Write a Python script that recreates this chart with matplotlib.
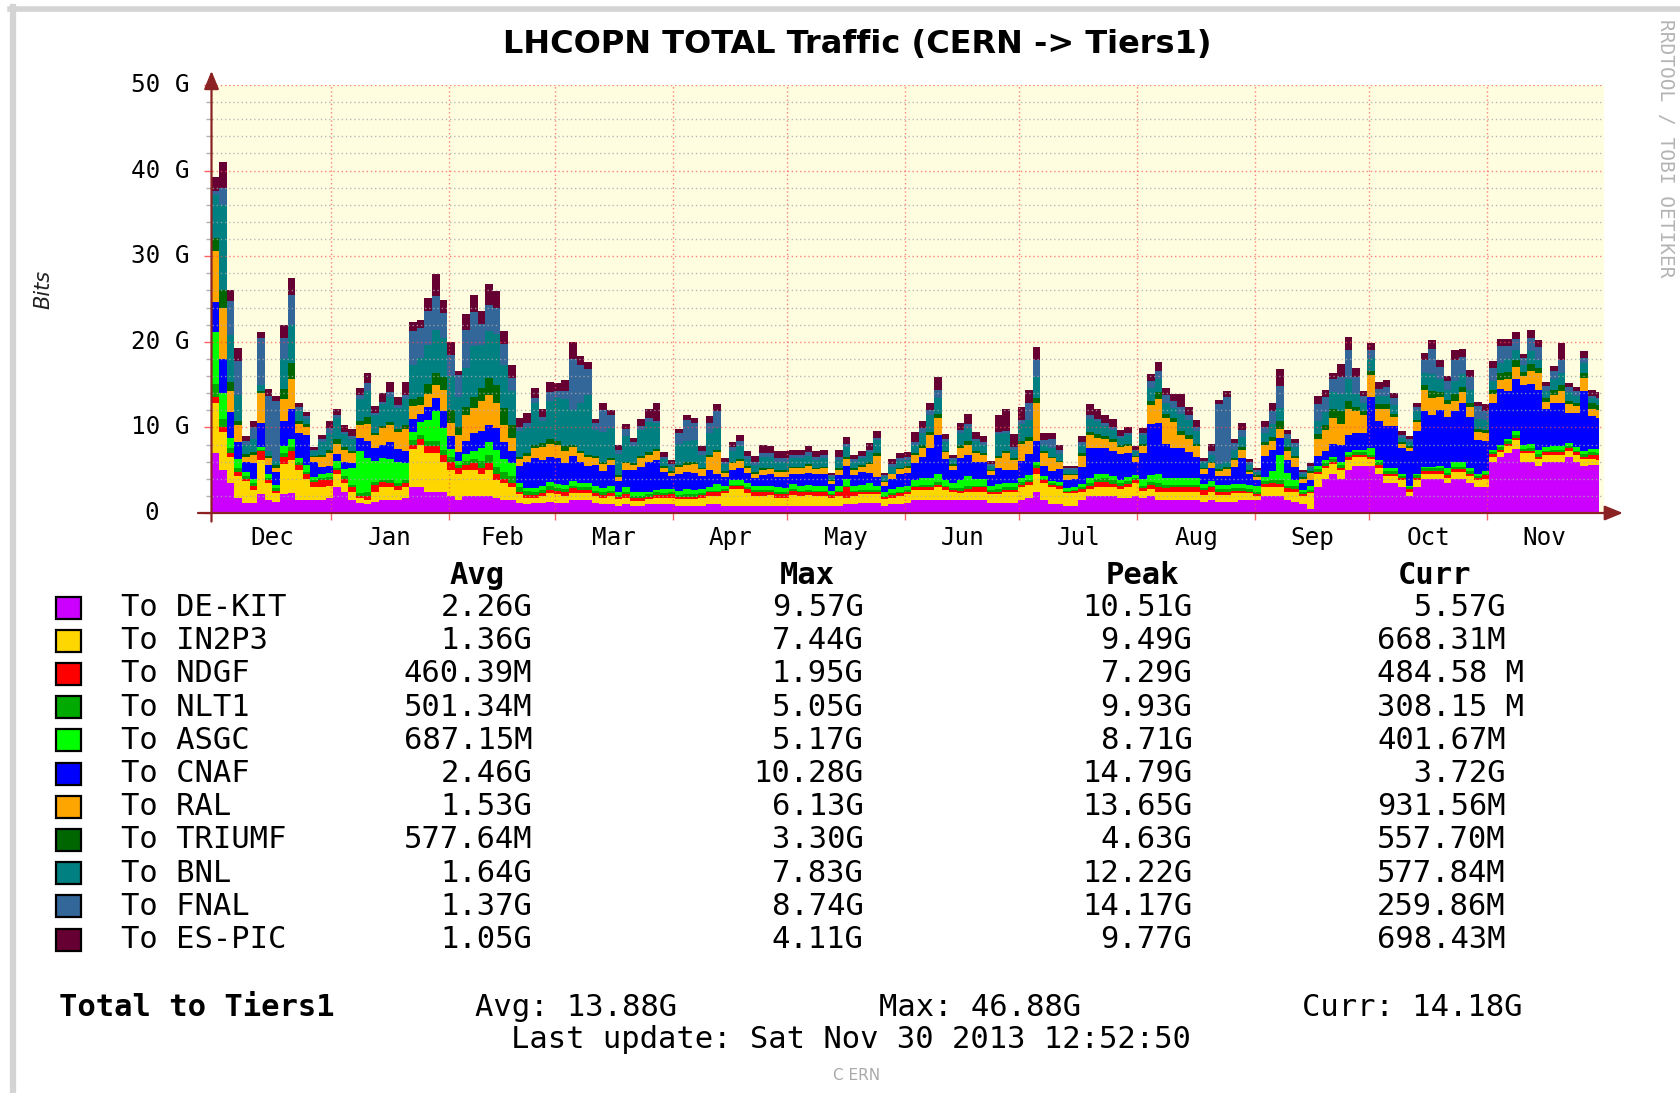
import matplotlib
matplotlib.use("Agg")
import matplotlib.pyplot as plt
from matplotlib.patches import Rectangle
from matplotlib.lines import Line2D

W, H = 1680, 1093

# x axis: days since Nov 30 2012 12:52, traffic averaged in 2 day bins (Gbit/s)
bin_start = list(range(0, 366, 2))
data_end = 365.0

month_start = [0.46, 31.46, 62.46, 90.46, 121.46, 151.46, 182.46, 212.46,
               243.46, 274.46, 304.46, 335.46, 365.46]
month_names = ['Dec', 'Jan', 'Feb', 'Mar', 'Apr', 'May', 'Jun', 'Jul',
               'Aug', 'Sep', 'Oct', 'Nov']

de_kit = [7, 5, 3.5, 1.8, 1.2, 1.2, 2.2, 1.5, 1.3, 2.2,
          2.3, 1.5, 1.5, 1.5, 1.5, 1.8, 3, 2.5, 1.5, 1.2,
          1, 1.3, 1.5, 1.5, 1.5, 1.8, 3, 3, 2.5, 2.5,
          2.5, 2, 1.5, 2, 2, 2, 2, 1.8, 1.5, 1.5,
          1.2, 1, 1.2, 1.2, 1.3, 1.2, 1.2, 1.5, 1.5, 1.5,
          1.2, 1, 1, 0.8, 1, 0.8, 0.8, 1, 1, 1,
          1, 0.8, 0.8, 0.8, 0.8, 1, 1, 0.8, 0.8, 0.8,
          0.8, 0.8, 0.8, 0.8, 0.8, 0.8, 0.8, 0.8, 0.8, 0.8,
          0.8, 0.8, 0.8, 1, 1, 1.2, 1.2, 1.2, 0.8, 1,
          1, 1.2, 1.5, 1.5, 1.5, 1.5, 1.5, 1.5, 1.5, 1.5,
          1.5, 1.5, 1.2, 1.2, 1.2, 1.2, 1.5, 1.8, 2.5, 1.5,
          1, 1, 0.8, 0.8, 1.5, 2, 2, 2, 2, 1.8,
          1.8, 2, 1.8, 2, 1.5, 1.5, 1.5, 1.5, 1.5, 1.5,
          1.3, 1.5, 1.3, 1.3, 1.3, 1.5, 1.5, 1.5, 2, 2,
          2, 1.5, 1.3, 1, 0.5, 3, 4, 4.5, 4, 5,
          5.5, 5.5, 5.5, 4.5, 3.5, 3.5, 3, 2, 3, 4,
          4, 4, 3.5, 4, 4, 3.5, 3, 3, 6, 6.5,
          7, 7.5, 6, 6, 5.5, 6, 6, 6, 6.5, 6,
          5.5, 5.6, 5.57]
in2p3 = [5.8, 4.5, 3, 2.5, 2.5, 1.5, 4, 2, 1, 3.5,
         3.9, 3.5, 2.5, 1.5, 1.5, 1.3, 1.5, 1, 1, 0.5,
         0.5, 1.2, 1.5, 1.5, 1.2, 1.2, 4.5, 5, 4.5, 4.5,
         3.5, 3, 3, 3, 3, 2.5, 3, 2, 2, 1.5,
         1, 0.8, 0.6, 0.8, 1, 1, 0.8, 0.8, 0.8, 0.8,
         0.8, 0.8, 1, 0.8, 0.8, 0.6, 0.6, 0.6, 0.8, 0.8,
         0.8, 0.8, 0.8, 0.8, 1, 1, 1, 1.5, 2, 2,
         1.5, 1.2, 1.2, 1.3, 1, 1, 1.3, 1.2, 1.3, 1.2,
         1.2, 1, 1.2, 0.8, 1, 1, 1, 1, 0.8, 0.8,
         1, 1, 1.2, 1.2, 1.2, 1.5, 1.2, 1, 0.8, 1,
         1, 1, 1, 1, 1.2, 1.2, 1.5, 1.5, 2, 2,
         2, 1.8, 1.5, 1.5, 1, 0.8, 1, 1, 1, 1,
         1.2, 1.5, 0.8, 0.8, 1, 1, 1, 1, 1, 1,
         0.8, 1, 0.8, 0.8, 1, 0.8, 0.8, 0.5, 1, 1,
         1, 1, 1.2, 1, 1.8, 1.5, 1.2, 1.2, 1, 1.2,
         1, 1, 0.8, 0.8, 0.8, 0.8, 0.8, 0.5, 0.8, 0.6,
         0.6, 0.6, 0.6, 0.8, 0.8, 0.8, 0.8, 1, 0.6, 0.6,
         0.8, 1, 1, 1, 0.8, 0.8, 0.8, 0.8, 0.8, 0.8,
         0.8, 0.7, 0.67]
ndgf = [0.8, 0.5, 0.5, 0.5, 0.3, 0.5, 1, 0.3, 0.3, 0.8,
        1, 0.6, 0.5, 0.6, 0.8, 0.8, 0.5, 0.5, 0.5, 0.3,
        0.5, 0.8, 0.6, 0.5, 0.5, 0.5, 0.5, 0.6, 0.8, 0.8,
        0.8, 1, 0.8, 0.6, 0.8, 0.8, 0.8, 0.8, 0.5, 0.5,
        0.3, 0.3, 0.3, 0.3, 0.4, 0.4, 0.5, 0.6, 0.4, 0.4,
        0.3, 0.3, 0.3, 0.3, 0.4, 0.3, 0.3, 0.3, 0.3, 0.3,
        0.4, 0.3, 0.3, 0.3, 0.3, 0.4, 0.4, 0.3, 0.3, 0.3,
        0.5, 0.5, 0.5, 0.4, 0.4, 0.4, 0.5, 0.4, 0.4, 0.4,
        0.4, 0.3, 0.4, 1.2, 0.4, 0.3, 0.3, 0.3, 0.3, 0.3,
        0.3, 0.3, 0.3, 0.3, 0.3, 0.3, 0.3, 0.2, 0.3, 0.3,
        0.5, 0.5, 0.3, 0.3, 0.3, 0.3, 0.3, 0.3, 0.8, 0.3,
        0.3, 0.3, 0.2, 0.3, 0.3, 0.4, 0.6, 0.6, 0.4, 0.4,
        0.4, 0.4, 0.3, 0.5, 0.5, 0.4, 0.5, 0.5, 0.5, 0.5,
        0.6, 0.5, 0.4, 0.4, 0.3, 0.3, 0.2, 0.2, 0.4, 0.5,
        0.4, 0.4, 0.3, 0.2, 0.2, 0.3, 0.3, 0.3, 0.3, 0.3,
        0.3, 0.3, 0.3, 0.3, 0.3, 0.3, 0.3, 0.3, 0.3, 0.3,
        0.3, 0.3, 0.3, 0.3, 0.3, 0.3, 0.3, 0.4, 0.3, 0.3,
        0.3, 0.3, 0.3, 0.3, 0.3, 0.3, 0.3, 0.3, 0.3, 0.3,
        0.3, 0.5, 0.48]
nlt1 = [1.5, 1, 0.6, 0.5, 0.3, 0.3, 0.2, 0.3, 0.3, 0.5,
        0.5, 0.3, 0.3, 0.3, 0.3, 0.3, 0.3, 0.3, 0.3, 0.3,
        0.4, 0.3, 0.3, 0.3, 0.3, 0.3, 0.5, 0.5, 0.6, 0.6,
        0.6, 0.5, 0.3, 0.5, 0.5, 0.8, 1, 0.8, 0.8, 0.8,
        0.5, 0.5, 0.4, 0.4, 0.4, 0.3, 0.3, 0.3, 0.3, 0.3,
        0.3, 0.3, 0.3, 0.2, 0.3, 0.3, 0.3, 0.3, 0.3, 0.2,
        0.2, 0.2, 0.3, 0.3, 0.2, 0.2, 0.2, 0.2, 0.2, 0.2,
        0.2, 0.2, 0.2, 0.2, 0.2, 0.2, 0.2, 0.2, 0.2, 0.2,
        0.2, 0.1, 0.2, 0.2, 0.2, 0.2, 0.2, 0.2, 0.1, 0.2,
        0.2, 0.2, 0.2, 0.3, 0.3, 0.3, 0.2, 0.2, 0.3, 0.3,
        0.2, 0.2, 0.2, 0.3, 0.3, 0.3, 0.3, 0.3, 0.3, 0.2,
        0.2, 0.2, 0.1, 0.1, 0.2, 0.3, 0.4, 0.5, 0.4, 0.3,
        0.3, 0.2, 0.3, 0.3, 0.5, 0.4, 0.3, 0.3, 0.3, 0.3,
        0.2, 0.2, 0.3, 0.3, 0.3, 0.3, 0.3, 0.3, 0.3, 0.4,
        0.4, 0.3, 0.3, 0.2, 0.2, 0.3, 0.3, 0.3, 0.3, 0.3,
        0.3, 0.3, 0.2, 0.3, 0.3, 0.3, 0.2, 0.2, 0.3, 0.3,
        0.3, 0.3, 0.3, 0.3, 0.3, 0.3, 0.2, 0.2, 0.2, 0.3,
        0.3, 0.3, 0.2, 0.3, 0.3, 0.2, 0.3, 0.3, 0.2, 0.2,
        0.3, 0.3, 0.31]
asgc = [6, 3, 1.2, 1, 0.5, 0.5, 0.3, 0.5, 0.4, 0.8,
        1, 0.5, 0.8, 0.3, 0.5, 0.5, 0.8, 0.8, 2, 5,
        4, 2.5, 2.5, 2.5, 2.5, 2, 1, 1.5, 2.5, 3.5,
        2.5, 1, 0.5, 0.8, 1, 1.5, 1.5, 2, 1.5, 1.5,
        0.5, 0.3, 0.4, 0.5, 0.5, 0.5, 0.5, 0.5, 0.5, 0.5,
        0.5, 0.5, 0.5, 0.4, 0.5, 0.5, 0.4, 0.3, 0.3, 0.5,
        0.4, 0.5, 0.6, 0.5, 0.5, 0.4, 0.8, 0.4, 0.5, 0.5,
        0.5, 0.4, 0.5, 0.5, 0.6, 0.5, 0.6, 0.6, 0.6, 0.5,
        0.5, 0.4, 0.6, 0.8, 0.6, 0.6, 0.8, 0.5, 0.4, 0.5,
        0.5, 0.5, 0.6, 0.8, 0.8, 1, 0.6, 0.6, 1, 1.2,
        0.8, 0.8, 0.5, 0.6, 0.5, 0.5, 0.5, 0.5, 0.3, 0.3,
        0.2, 0.3, 0.3, 0.3, 0.4, 0.6, 0.6, 0.5, 0.5, 0.4,
        0.5, 0.3, 0.8, 0.8, 1, 0.8, 0.8, 0.8, 0.8, 0.8,
        0.5, 0.5, 0.5, 0.5, 0.5, 0.5, 0.5, 0.6, 0.5, 1,
        3, 1.5, 0.8, 0.3, 0.4, 0.4, 0.4, 0.3, 0.3, 0.3,
        0.3, 0.3, 0.8, 0.3, 0.3, 0.3, 0.3, 0.2, 0.2, 0.2,
        0.2, 0.3, 0.5, 0.5, 0.5, 0.3, 0.2, 0.3, 0.3, 0.3,
        0.3, 0.5, 0.5, 0.5, 0.5, 0.4, 0.4, 0.4, 0.4, 0.4,
        0.4, 0.4, 0.40]
cnaf = [3.5, 4, 3, 2, 1.2, 1.8, 2.8, 1, 1.5, 3,
        3.5, 3, 3.5, 1.8, 0.8, 0.8, 0.8, 0.8, 0.5, 1.5,
        2, 1.5, 1.5, 2, 1.5, 1.5, 1.5, 1, 1.5, 1.5,
        2, 1.5, 1, 1.5, 2, 2, 2, 2.5, 2, 1.5,
        2, 3, 3.5, 3, 3, 3, 2.5, 3, 2.5, 2,
        2.5, 2, 2.5, 1.2, 2, 2.5, 3, 3.5, 3.5, 2,
        1.5, 2, 2, 2, 1.5, 2, 1.2, 1, 1.2, 1.5,
        1.2, 1, 1.2, 1.3, 1.2, 1.3, 1.2, 1.4, 1.4, 1.4,
        1.5, 0.8, 1.2, 1.5, 1.2, 1.5, 1.2, 1, 0.8, 1.2,
        1.5, 1.5, 2, 2.5, 3.5, 4.5, 2.5, 1.5, 2.5, 2.5,
        2, 2, 1.2, 1.8, 1.5, 1.5, 2, 2.5, 2.5, 1.2,
        1.2, 1.5, 1, 1, 2, 3.5, 3, 3, 3, 3,
        2.8, 1.5, 3, 6, 6, 4, 3.5, 3.5, 3, 2.5,
        1.2, 1.5, 1, 1, 2, 3, 1.2, 0.8, 2.5, 2.5,
        2, 1.5, 1.5, 0.8, 0.8, 1.2, 1, 1.5, 2, 2,
        2, 2, 6, 4.5, 5, 5, 3, 4, 5, 6.5,
        6, 6.5, 6, 6, 7, 6, 4, 3.5, 5.5, 6.5,
        5.5, 6, 7, 7, 7, 4.5, 5, 5, 3.5, 4,
        7, 3.8, 3.72]
ral = [6, 6, 2.5, 2, 0.6, 1, 3.5, 0.8, 0.5, 2.5,
       3.5, 1, 1, 0.5, 1.2, 1.5, 1.2, 1.5, 1.2, 1.5,
       2, 1.5, 2, 2, 2, 2.5, 1.5, 1, 1.5, 1.5,
       2.5, 1.5, 2, 3, 3, 3.5, 3.5, 3, 2, 1.5,
       0.8, 0.8, 1.2, 1.5, 1.5, 1.5, 1.5, 1, 1, 1,
       0.8, 0.8, 0.6, 0.5, 0.8, 0.6, 1, 0.8, 1, 0.5,
       0.4, 0.8, 0.8, 1, 0.8, 1.5, 2.5, 0.5, 0.8, 0.8,
       0.6, 0.5, 0.6, 0.6, 0.6, 0.6, 0.6, 0.6, 0.8, 0.6,
       0.6, 0.3, 0.6, 0.8, 0.6, 0.6, 1, 2.5, 0.4, 0.5,
       0.6, 0.6, 1, 1, 1.5, 2, 0.8, 0.5, 1.2, 1.2,
       1, 0.8, 0.5, 1.2, 2, 1.2, 2, 1.5, 4.5, 1.5,
       1.5, 0.8, 0.5, 0.4, 1.3, 1.5, 1.2, 1, 1, 0.8,
       0.8, 0.6, 0.8, 2.2, 2.8, 3, 3, 1.5, 1.5, 1.2,
       0.5, 0.6, 0.6, 0.8, 0.8, 1, 0.3, 0.3, 1.2, 1,
       1, 1, 1, 0.5, 0.8, 2, 2.5, 3, 2.5, 3,
       2.5, 2, 2.5, 1.5, 2, 1, 0.5, 0.4, 1, 2.5,
       2, 1.5, 1.5, 1.2, 1.2, 1.2, 1, 1, 1, 1,
       1.5, 1.5, 1, 1.5, 2, 0.8, 1, 1.5, 1, 0.8,
       1.5, 0.9, 0.93]
triumf = [1.5, 2, 1, 0.5, 0.3, 0.3, 0.3, 0.3, 0.3, 1.2,
          1.8, 0.3, 0.3, 0.2, 0.2, 0.4, 0.5, 0.3, 0.2, 0.5,
          0.8, 0.3, 0.3, 0.3, 0.3, 0.5, 0.8, 1, 1.2, 1.5,
          1.5, 1.5, 1, 1, 1.2, 1.5, 2, 2, 2, 1.5,
          0.3, 0.3, 0.3, 0.5, 0.5, 0.5, 0.5, 0.3, 0.3, 0.3,
          0.3, 0.3, 0.2, 0.2, 0.2, 0.2, 0.3, 0.3, 0.3, 0.2,
          0.2, 0.2, 0.3, 0.3, 0.2, 0.3, 0.3, 0.2, 0.2, 0.2,
          0.2, 0.2, 0.2, 0.2, 0.2, 0.2, 0.2, 0.2, 0.2, 0.2,
          0.2, 0.1, 0.2, 0.2, 0.2, 0.2, 0.2, 0.3, 0.1, 0.1,
          0.2, 0.2, 0.2, 0.3, 0.4, 0.5, 0.2, 0.2, 0.3, 0.4,
          0.2, 0.2, 0.1, 0.3, 0.3, 0.2, 0.3, 0.5, 0.5, 0.2,
          0.2, 0.2, 0.1, 0.1, 0.3, 0.4, 0.4, 0.4, 0.4, 0.3,
          0.3, 0.2, 0.3, 0.5, 0.8, 0.5, 0.5, 0.5, 0.5, 0.3,
          0.2, 0.2, 0.2, 0.3, 0.2, 0.3, 0.2, 0.2, 0.4, 0.5,
          1, 0.5, 0.3, 0.2, 0.2, 0.5, 0.6, 1, 1.5, 1,
          0.5, 0.5, 0.5, 0.5, 0.5, 0.4, 0.2, 0.2, 0.3, 0.5,
          0.8, 0.6, 0.5, 0.8, 0.6, 0.5, 0.3, 0.3, 0.5, 0.8,
          0.8, 0.8, 0.5, 0.8, 0.5, 0.4, 0.6, 0.6, 0.4, 0.4,
          0.5, 0.6, 0.56]
bnl = [5, 10, 5.5, 3, 1, 1.5, 0.6, 0.5, 0.5, 3.5,
       4.5, 1.2, 0.6, 0.5, 1.5, 2, 2.5, 1.5, 1.5, 2.5,
       3, 2, 2.5, 3, 2.5, 3, 4, 4.5, 4.5, 5,
       4.5, 4, 3.5, 4.5, 6, 5, 5.5, 6, 5, 4,
       3, 3, 5, 2.5, 4.5, 5, 5.5, 4, 5.5, 7,
       3, 3.5, 3.5, 2.5, 3, 2, 3, 3.5, 3, 0.8,
       0.6, 2.5, 2.5, 2.5, 1.5, 2.5, 2.5, 0.8, 1.2, 1.5,
       0.8, 0.8, 1.3, 1.2, 1, 1, 1, 1, 1, 0.9,
       1, 0.4, 1, 1.2, 0.8, 0.8, 1.2, 1.5, 0.5, 0.8,
       0.8, 0.7, 1, 1.5, 2, 1.8, 1, 0.5, 1.5, 1.5,
       1.2, 1, 0.5, 2.5, 2, 1, 2, 2, 2.5, 0.8,
       1, 0.8, 0.5, 0.5, 1, 1.5, 1.5, 1.2, 1, 0.8,
       1, 0.5, 1, 1.5, 1.5, 1.2, 1.2, 2, 1.8, 1.5,
       0.6, 0.8, 0.6, 0.6, 1, 1.2, 0.6, 0.4, 1, 1.5,
       1.5, 1, 1, 0.4, 0.4, 1.5, 1.5, 2, 2, 2.5,
       1.5, 1, 1.5, 1, 1, 1, 0.5, 0.5, 1, 1.5,
       2, 1.5, 1.2, 1.5, 1.5, 1.5, 1.2, 1.2, 1, 1.2,
       1.5, 1.2, 0.8, 1.5, 1, 0.8, 1.2, 1.5, 1, 0.8,
       1.2, 0.6, 0.58]
fnal = [0.5, 2, 4, 4, 0.5, 1.5, 5.5, 6.5, 7, 2.5,
        3.5, 0.5, 0.3, 0.2, 0.3, 0.5, 0.3, 0.3, 0.3, 0.5,
        1, 0.3, 0.3, 0.5, 0.3, 0.5, 4, 3.5, 4, 4,
        3, 2.5, 2.5, 4.5, 4, 2.5, 3, 3, 2.5, 1.5,
        0.5, 0.5, 0.5, 0.5, 1, 0.8, 1, 6, 4.5, 3,
        0.8, 2.5, 1.5, 0.5, 0.8, 0.5, 0.5, 0.5, 0.3, 0.3,
        0.2, 1.2, 2.5, 2, 0.5, 1.2, 2, 0.3, 0.5, 0.6,
        0.4, 0.3, 0.5, 0.5, 0.4, 0.4, 0.4, 0.4, 0.4, 0.4,
        0.4, 0.2, 0.4, 0.4, 0.3, 0.3, 0.3, 0.3, 0.2, 0.3,
        0.3, 0.3, 0.3, 0.5, 0.5, 1, 0.3, 0.2, 0.3, 0.5,
        0.3, 0.3, 0.2, 0.3, 0.3, 0.3, 0.5, 2, 2, 0.5,
        1, 0.5, 0.2, 0.2, 0.3, 0.5, 0.3, 0.3, 0.3, 0.2,
        0.3, 0.2, 0.3, 0.8, 1, 1, 0.8, 0.8, 0.5, 0.5,
        0.2, 0.5, 7, 7.5, 0.8, 0.8, 0.3, 0.2, 0.8, 1.5,
        2.5, 0.5, 0.5, 0.2, 0.2, 2, 1.8, 1.5, 2, 3.5,
        2, 0.8, 1, 0.8, 1, 0.8, 0.3, 0.3, 0.5, 1.5,
        3, 1.5, 1, 2.5, 2, 1.5, 1.5, 1, 1.5, 2,
        1.5, 1.2, 0.8, 1.5, 1.5, 0.6, 1, 1.5, 0.6, 0.5,
        0.6, 0.3, 0.26]
es_pic = [1.7, 3, 1.2, 1.5, 0.6, 0.6, 0.8, 0.8, 0.6, 1.5,
          2, 0.5, 0.5, 0.3, 0.5, 0.8, 0.8, 0.8, 0.8, 0.8,
          1.2, 0.8, 1, 1.2, 1, 1.5, 1, 1, 1.5, 2.5,
          1.5, 1.5, 0.5, 1.8, 2, 1.5, 2.5, 2, 1.5, 1.5,
          1, 1.2, 1.2, 1, 1.2, 1, 1.2, 2, 1, 0.8,
          0.5, 0.8, 0.6, 0.6, 0.6, 0.5, 0.8, 1, 2, 0.5,
          0.5, 0.5, 0.6, 0.6, 0.5, 0.8, 0.8, 0.4, 0.6, 0.7,
          0.6, 0.8, 1, 0.8, 0.8, 0.8, 0.6, 0.6, 0.7, 0.7,
          0.6, 0.3, 0.8, 0.8, 0.5, 0.5, 0.8, 0.8, 0.3, 0.6,
          0.6, 0.6, 1.2, 0.8, 0.8, 1.5, 0.6, 0.4, 0.8, 1.2,
          0.8, 0.7, 0.4, 2, 2.5, 1.5, 1.5, 1.5, 1.5, 0.8,
          0.8, 0.5, 0.3, 0.3, 0.7, 1.2, 1.2, 1, 1, 0.7,
          0.6, 0.4, 0.5, 0.8, 1, 0.8, 0.8, 1.5, 1, 0.8,
          0.3, 0.8, 0.5, 0.8, 0.5, 0.8, 0.4, 0.2, 0.6, 1,
          2, 0.5, 0.5, 0.2, 0.3, 1, 0.8, 0.8, 1.5, 1.5,
          1, 0.5, 0.8, 0.8, 0.8, 0.6, 0.5, 0.4, 0.5, 0.8,
          1, 0.8, 0.6, 1.2, 1, 0.8, 0.5, 0.8, 0.8, 0.8,
          0.8, 0.8, 0.5, 1, 0.8, 0.5, 0.6, 2, 0.5, 0.5,
          0.8, 0.7, 0.70]

names = ['To DE-KIT', 'To IN2P3', 'To NDGF', 'To NLT1', 'To ASGC', 'To CNAF',
         'To RAL', 'To TRIUMF', 'To BNL', 'To FNAL', 'To ES-PIC']
colors = ['#cc00ff', '#ffd700', '#ff0000', '#00aa00', '#00ff00', '#0000ff',
          '#ffa500', '#006600', '#008080', '#336699', '#660033']
avg_txt = ['2.26G', '1.36G', '460.39M', '501.34M', '687.15M', '2.46G',
           '1.53G', '577.64M', '1.64G', '1.37G', '1.05G']
max_txt = ['9.57G', '7.44G', '1.95G', '5.05G', '5.17G', '10.28G',
           '6.13G', '3.30G', '7.83G', '8.74G', '4.11G']
peak_txt = ['10.51G', '9.49G', '7.29G', '9.93G', '8.71G', '14.79G',
            '13.65G', '4.63G', '12.22G', '14.17G', '9.77G']
curr_txt = ['  5.57G', '668.31M', '484.58 M', '308.15 M', '401.67M', '  3.72G',
            '931.56M', '557.70M', '577.84M', '259.86M', '698.43M']

ytick_vals = [0, 10, 20, 30, 40, 50]
ytick_labels = ['0', '10 G', '20 G', '30 G', '40 G', '50 G']

MONO = 'DejaVu Sans Mono'


def fx(px):
    return px / W


def fy(py):
    return 1 - py / H


fig = plt.figure(figsize=(W / 100, H / 100), dpi=100)
fig.patch.set_facecolor('white')

# grey frame of the original image
fig.add_artist(Line2D([fx(10), 1], [fy(8.5), fy(8.5)], color='#d4d4d4', lw=4))
fig.add_artist(Line2D([fx(13), fx(13)], [fy(6.5), 0], color='#d4d4d4', lw=4.5))

ax = fig.add_axes([fx(211.5), fy(513), (1604 - 211.5) / W, (513 - 85) / H])
ax.set_facecolor('#fffde0')
ax.set_xlim(0, 366.2)
ax.set_ylim(0, 50)
for sp in ax.spines.values():
    sp.set_visible(False)

series = [de_kit, in2p3, ndgf, nlt1, asgc, cnaf, ral, triumf, bnl, fnal, es_pic]
x = bin_start + [data_end]
ax.stackplot(x, *[s + [s[-1]] for s in series], colors=colors,
             step='post', linewidth=0, zorder=2)

# grid on top of the areas, rrdtool style
for v in range(2, 51, 2):
    if v % 10:
        ax.axhline(v, color='#a8a8a8', lw=1, ls=(0, (1, 2)), alpha=0.8, zorder=3)
for v in range(10, 51, 10):
    ax.axhline(v, color='#ff5050', lw=1, ls=(0, (1, 2)), alpha=0.7, zorder=3)
for m in month_start[1:12]:
    ax.axvline(m, color='#ff5050', lw=1, ls=(0, (1, 2)), alpha=0.7, zorder=3)

mid = [(a + b) / 2 for a, b in zip(month_start[:-1], month_start[1:])]
ax.set_xticks(mid, month_names, fontfamily=MONO, fontsize=17.5)
ax.set_xticks(month_start[1:12], minor=True)
ax.tick_params(axis='x', which='major', length=0, pad=9)
ax.tick_params(axis='x', which='minor', length=5, width=1, color='#ff6060')
ax.set_yticks(ytick_vals, [])
ax.set_yticks(range(0, 51, 2), minor=True)
ax.tick_params(axis='y', which='major', length=6, width=1, color='#ff6060')
ax.tick_params(axis='y', which='minor', length=4, width=1, color='#b0b0b0')

ytr = ax.get_yaxis_transform()
for v, lab in zip(ytick_vals, ytick_labels):
    xr = -0.038 if lab == '0' else -0.0155
    ax.text(xr, v, lab, transform=ytr, ha='right', va='center',
            fontsize=17.5, family=MONO)

# axis lines with arrows
axis_c = '#8b2323'
ax.annotate('', xy=(1.0136, 0), xytext=(-0.0097, 0), xycoords='axes fraction',
            textcoords='axes fraction', annotation_clip=False,
            arrowprops=dict(arrowstyle='-|>,head_length=1.1,head_width=0.45',
                            color=axis_c, lw=1.6, shrinkA=0, shrinkB=0,
                            mutation_scale=10))
ax.annotate('', xy=(0, 1.033), xytext=(0, -0.02), xycoords='axes fraction',
            textcoords='axes fraction', annotation_clip=False,
            arrowprops=dict(arrowstyle='-|>,head_length=1.1,head_width=0.45',
                            color=axis_c, lw=1.6, shrinkA=0, shrinkB=0,
                            mutation_scale=10))

fig.text(fx(857), fy(45), 'LHCOPN TOTAL Traffic (CERN -> Tiers1)', ha='center',
         va='center', fontsize=23, fontweight='bold', family='DejaVu Sans')
fig.text(fx(43), fy(289), 'Bits', rotation=90, ha='center', va='center',
         fontsize=15, style='italic', family='DejaVu Sans', color='#222222')
fig.text(fx(1665), fy(19), 'RRDTOOL / TOBI OETIKER', rotation=270, ha='center',
         va='top', fontsize=14, family=MONO, color='#b4b4b4')

# legend table
LS = 22
head_y = 575
for label, cx in [('Avg', 477), ('Max', 807), ('Peak', 1142), ('Curr', 1434)]:
    fig.text(fx(cx), fy(head_y), label, ha='center', va='center', fontsize=LS,
             family=MONO, fontweight='bold')

row_y0, row_dy = 607.5, 33.2
for i, nm in enumerate(names):
    yy = row_y0 + i * row_dy
    fig.add_artist(Rectangle((fx(56), fy(yy + 11)), 25 / W, 22 / H,
                             transform=fig.transFigure, facecolor=colors[i],
                             edgecolor='black', lw=1.6))
    fig.text(fx(121), fy(yy), nm, ha='left', va='center', fontsize=LS, family=MONO)
    fig.text(fx(532.5), fy(yy), avg_txt[i], ha='right', va='center', fontsize=LS, family=MONO)
    fig.text(fx(863.6), fy(yy), max_txt[i], ha='right', va='center', fontsize=LS, family=MONO)
    fig.text(fx(1192.5), fy(yy), peak_txt[i], ha='right', va='center', fontsize=LS, family=MONO)
    fig.text(fx(1377), fy(yy), curr_txt[i], ha='left', va='center', fontsize=LS, family=MONO)

tot_y = 1007
fig.text(fx(59), fy(tot_y), 'Total to Tiers1', ha='left', va='center', fontsize=LS,
         family=MONO, fontweight='bold')
fig.text(fx(475), fy(tot_y), 'Avg: 13.88G', ha='left', va='center', fontsize=LS, family=MONO)
fig.text(fx(879), fy(tot_y), 'Max: 46.88G', ha='left', va='center', fontsize=LS, family=MONO)
fig.text(fx(1302), fy(tot_y), 'Curr: 14.18G', ha='left', va='center', fontsize=LS, family=MONO)
fig.text(fx(851), fy(1040), 'Last update: Sat Nov 30 2013 12:52:50', ha='center',
         va='center', fontsize=LS, family=MONO)
fig.text(fx(857), fy(1075), 'C ERN', ha='center', va='center', fontsize=11,
         family='DejaVu Sans', color='#aaaaaa')

fig.savefig('out.png', dpi=100)
